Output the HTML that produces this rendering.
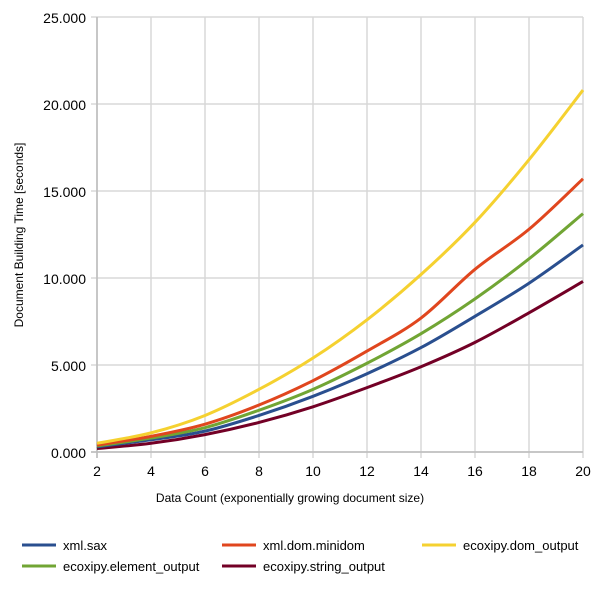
<!DOCTYPE html>
<html><head><meta charset="utf-8"><style>
body{margin:0;background:#fff;font-family:"Liberation Sans",Arial,sans-serif;}
svg text{font-family:"Liberation Sans",Arial,sans-serif;fill:#000;}
</style></head><body>
<svg id="c" width="600" height="591"></svg>
<script>
const xCats=[2,4,6,8,10,12,14,16,18,20];
const yTicks=[0,5,10,15,20,25];
const yTickLabels=["0.000","5.000","10.000","15.000","20.000","25.000"];
const seriesNames=["xml.sax","xml.dom.minidom","ecoxipy.dom_output","ecoxipy.element_output","ecoxipy.string_output"];
const sSax=[0.3,0.7,1.2,2.1,3.2,4.5,6.0,7.8,9.7,11.9];
const sMinidom=[0.4,0.9,1.6,2.7,4.1,5.8,7.7,10.5,12.8,15.7];
const sDom=[0.5,1.1,2.1,3.6,5.4,7.6,10.2,13.2,16.8,20.8];
const sElement=[0.35,0.8,1.4,2.4,3.6,5.1,6.8,8.8,11.1,13.7];
const sString=[0.2,0.5,1.0,1.7,2.6,3.7,4.9,6.3,8.0,9.8];
const colors=["#2a4f8f","#e0461e","#f5d130","#71a534","#730026"];
const NS="http://www.w3.org/2000/svg";
const svg=document.getElementById('c');
const X=v=>97+(v-2)*27;
const Y=v=>452-v*17.4;
function el(t,a,p){const e=document.createElementNS(NS,t);for(const k in a)e.setAttribute(k,a[k]);(p||svg).appendChild(e);return e;}
// grid
xCats.forEach(v=>{const l=el('line',{x1:X(v),x2:X(v),y1:Y(25),y2:Y(0)+6,stroke:'#d8d8d8','stroke-width':1.5});


const t=el('text',{x:X(v),y:476,'text-anchor':'middle','font-size':14});t.textContent=v;

});
yTicks.forEach((v,i)=>{const l=el('line',{x1:X(2)-6,x2:X(20),y1:Y(v),y2:Y(v),stroke:'#d8d8d8','stroke-width':1.5});


const t=el('text',{x:86,y:Y(v)+6,'text-anchor':'end','font-size':14});t.textContent=yTickLabels[i];

});
const ax=el('line',{x1:X(2),x2:X(2),y1:Y(25),y2:Y(0)+6,stroke:'#bbb','stroke-width':1.5});


const ax2=el('line',{x1:X(2)-6,x2:X(20),y1:Y(0),y2:Y(0),stroke:'#bbb','stroke-width':1.5});


function path(vals){const p=xCats.map((c,i)=>[X(c),Y(vals[i])]);let d='M'+p[0];
for(let i=0;i<p.length-1;i++){const p0=p[Math.max(0,i-1)],p1=p[i],p2=p[i+1],p3=p[Math.min(p.length-1,i+2)];
const c1=[p1[0]+(p2[0]-p0[0])/6,p1[1]+(p2[1]-p0[1])/6],c2=[p2[0]-(p3[0]-p1[0])/6,p2[1]-(p3[1]-p1[1])/6];
d+=' C'+c1+' '+c2+' '+p2;}return d;}
const all=[sSax,sMinidom,sDom,sElement,sString];
[4,0,3,1,2].forEach(i=>{const e=el('path',{d:path(all[i]),fill:'none',stroke:colors[i],'stroke-width':3});

});
const yt=el('text',{x:0,y:0,transform:'translate(23,235) rotate(-90)','text-anchor':'middle','font-size':12});yt.textContent='Document Building Time [seconds]';


const xt=el('text',{x:290,y:502,'text-anchor':'middle','font-size':12});xt.textContent='Data Count (exponentially growing document size)';


const lpos=[[22,545],[222,545],[422,545],[22,566],[222,566]];
seriesNames.forEach((n,i)=>{const g=el('g',{});


el('line',{x1:lpos[i][0],x2:lpos[i][0]+34,y1:lpos[i][1],y2:lpos[i][1],stroke:colors[i],'stroke-width':3},g);
const t=el('text',{x:lpos[i][0]+41,y:lpos[i][1]+5,'font-size':13},g);t.textContent=n;});
</script>
</body></html>
